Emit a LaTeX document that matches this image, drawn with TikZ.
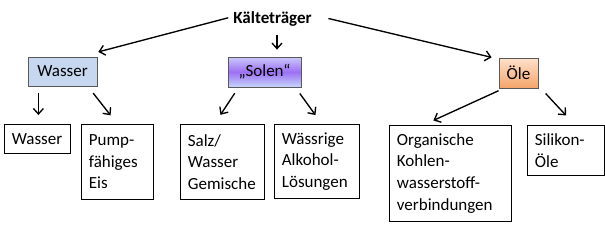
\documentclass[tikz,border=0pt]{standalone}
\usepackage{fontspec}
\setmainfont{Carlito}
\usepackage{xcolor}
\usepackage{tikz}
\usetikzlibrary{arrows.meta,positioning,calc}
\definecolor{wasserblau}{HTML}{C6D7EF}
\definecolor{solentop}{HTML}{CBC8FB}
\definecolor{solenmid}{HTML}{9D70F4}
\definecolor{solenbot}{HTML}{C6D5FB}
\definecolor{oeletop}{HTML}{FDE1CB}
\definecolor{oelebot}{HTML}{F6A56A}
\definecolor{randgrau}{HTML}{595959}

\begin{document}
\begin{tikzpicture}[x=1pt, y=-1pt,
    every node/.style={font=\fontsize{17}{21.7}\selectfont},
    root/.style={inner sep=2pt, font=\fontsize{17}{21.7}\selectfont\bfseries},
    topbox/.style={draw=randgrau, line width=0.8pt, align=center, inner sep=0pt},
    leaf/.style={draw, line width=0.8pt, anchor=north west, align=left, inner xsep=7.5pt, inner ysep=0pt},
    arr/.style={-{Straight Barb[length=5.5pt, width=10pt]}, line width=1.35pt}
]
\useasboundingbox (0,0) rectangle (605,228);
\node[root] (root) at (272.5,19) {Kälteträger};
\node[topbox, fill=wasserblau, minimum width=69pt, minimum height=29pt] (wasser) at (62.5,71.5) {Wasser};
\node[topbox, top color=solentop, bottom color=solenbot, middle color=solenmid, minimum width=73pt, minimum height=30pt] (solen) at (264.5,72) {„Solen“};
\node[topbox, top color=oeletop, bottom color=oelebot, minimum width=39pt, minimum height=30pt] (oele) at (518.5,73) {Öle};
\node[leaf, text width=51pt, minimum height=29pt] (wasser2) at (4,124) {Wasser};
\node[leaf, text width=57pt, minimum height=75pt] (pump) at (81,124) {Pump-\\fähiges\\Eis};
\node[leaf, text width=69pt, minimum height=75pt] (salz) at (180,124) {Salz/\\Wasser\\Gemische};
\node[leaf, text width=70pt, minimum height=74pt] (alkohol) at (274,124) {Wässrige\\Alkohol-\\Lösungen};
\node[leaf, text width=107pt, minimum height=96pt] (kohlen) at (389,125) {Organische\\Kohlen-\\wasserstoff-\\verbindungen};
\node[leaf, text width=62pt, minimum height=50pt] (silikon) at (527,125) {Silikon-\\Öle};
\draw[arr, shorten <=3pt, shorten >=18.5pt] ([yshift=2pt]root.west) -- ([xshift=-17pt]wasser.north east);
\draw[arr, shorten <=6pt, shorten >=7pt] ([xshift=4.5pt]root.south) -- ([xshift=4.5pt]root.south |- solen.north);
\draw[arr, shorten <=15pt, shorten >=1pt] ([yshift=4pt]root.east) -- ([xshift=-6pt]oele.north west);
\draw[arr, shorten <=7pt, shorten >=9pt] ([xshift=1pt]wasser2.north |- wasser.south) -- ([xshift=1pt]wasser2.north);
\draw[arr, shorten <=8.5pt, shorten >=11pt] ([xshift=-9.5pt]wasser.south east) -- (pump.north);
\draw[arr, shorten <=7pt, shorten >=11pt] ([xshift=11pt]solen.south west) -- ([xshift=-8pt]salz.north);
\draw[arr, shorten <=7.5pt, shorten >=11pt] ([xshift=-6pt]solen.south east) -- ([xshift=5pt]alkohol.north);
\draw[arr, shorten <=5.5pt, shorten >=11pt] ([xshift=5pt]oele.south west) -- ([xshift=-27pt]kohlen.north);
\draw[arr, shorten <=7pt, shorten >=13pt] ([xshift=2.5pt]oele.south east) -- ([xshift=9pt]silikon.north);
\end{tikzpicture}
\end{document}
